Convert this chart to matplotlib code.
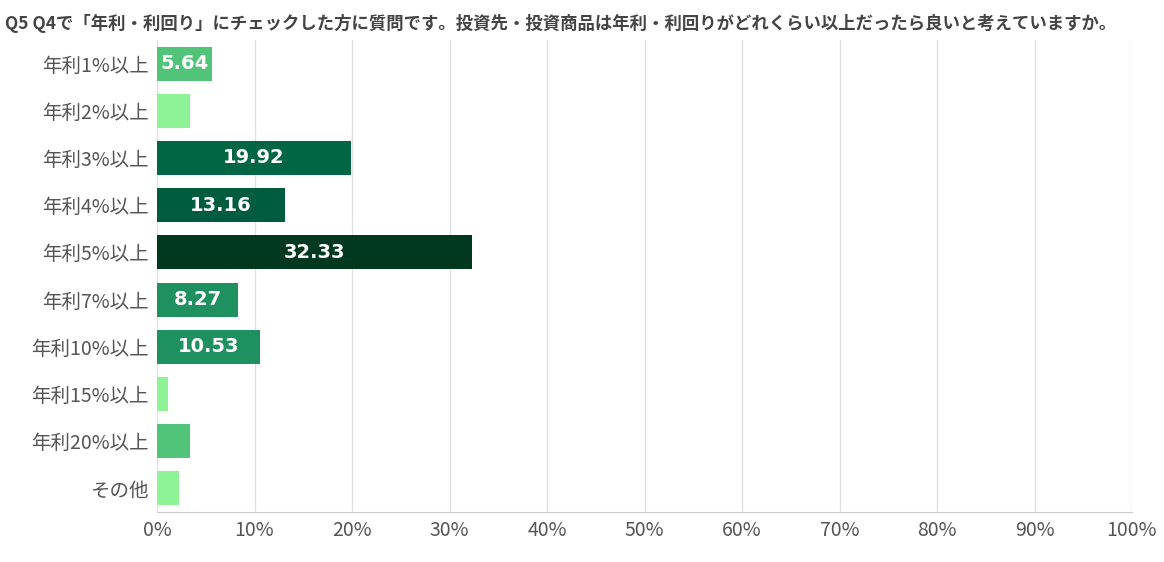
import matplotlib.pyplot as plt

plt.rcParams['font.family'] = ['Noto Sans CJK JP', 'DejaVu Sans']

categories = ["年利1%以上", "年利2%以上", "年利3%以上", "年利4%以上", "年利5%以上",
              "年利7%以上", "年利10%以上", "年利15%以上", "年利20%以上", "その他"]
values = [5.64, 3.38, 19.92, 13.16, 32.33, 8.27, 10.53, 1.13, 3.38, 2.26]
labels = ["5.64", "", "19.92", "13.16", "32.33", "8.27", "10.53", "", "", ""]
colors = ["#52c47a", "#8ef296", "#006644", "#005c3e", "#003820",
          "#1f9060", "#1f9060", "#8ef296", "#52c47a", "#8ef296"]
ticks = list(range(0, 101, 10))

fig = plt.figure(figsize=(11.64, 5.62), dpi=100)
ax = fig.add_axes([157 / 1164, 1 - 512 / 562, 975 / 1164, 472 / 562])

y = list(range(len(categories)))
ax.barh(y, values, color=colors, height=0.72, zorder=2)
for yi, v, lab in zip(y, values, labels):
    if lab:
        ax.text(v / 2, yi, lab, ha="center", va="center", color="white",
                fontsize=14, fontweight="bold", family="DejaVu Sans")

ax.set_ylim(len(categories) - 0.5, -0.5)
ax.set_xlim(0, 100)
ax.set_yticks(y)
ax.set_yticklabels(categories, fontsize=14, color="#555555")
ax.set_xticks(ticks)
ax.set_xticklabels([f"{t}%" for t in ticks], fontsize=14, color="#555555")
ax.grid(axis="x", color="#e0e0e0", linewidth=1, zorder=0)
ax.tick_params(length=0, pad=6)
for s in ["top", "right", "left"]:
    ax.spines[s].set_visible(False)
ax.spines["bottom"].set_color("#cccccc")

fig.text(0.004, 0.975, "Q5 Q4で「年利・利回り」にチェックした方に質問です。投資先・投資商品は年利・利回りがどれくらい以上だったら良いと考えていますか。",
         fontsize=12.5, fontweight="bold", color="#444444", va="top")

fig.savefig("out.png", dpi=100)
